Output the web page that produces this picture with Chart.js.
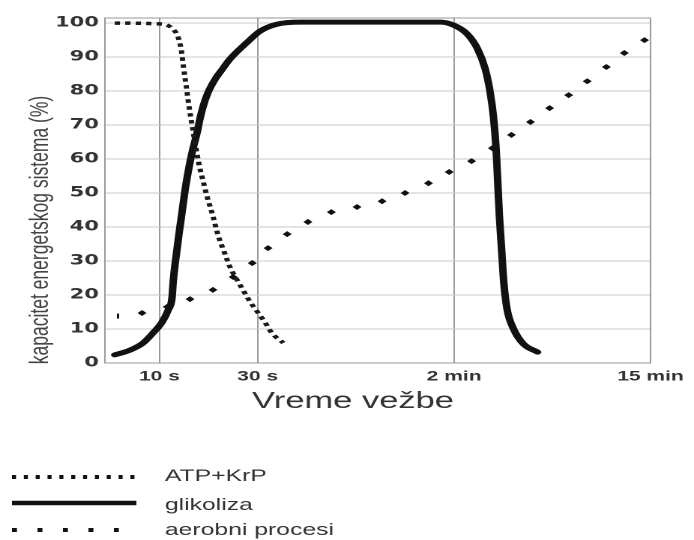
<!DOCTYPE html>
<html>
<head>
<meta charset="utf-8">
<script src="https://cdn.jsdelivr.net/npm/chart.js@4.4.1/dist/chart.umd.min.js"></script>
<style>
  html, body { margin:0; padding:0; background:#fff; overflow:hidden; }
  #wrap { width:463px; height:540px; transform-origin:0 0; transform:scaleX(1.4989); }
  #c { display:block; width:463px; height:540px; }
</style>
</head>
<body>
<div id="wrap"><canvas id="c" width="463" height="540"></canvas></div>
<script>
// ---- data (x on a 0–100 "exercise duration" position scale, y = % capacity) ----
const xTickPos    = [10, 28, 64, 100];
const xTickLabels = ['10 s', '30 s', '2 min', '15 min'];
const yTicks      = [0, 10, 20, 30, 40, 50, 60, 70, 80, 90, 100];

const seriesNames = ['ATP+KrP', 'glikoliza', 'aerobni procesi'];

const atpX = [1.8, 10.6, 12.5, 13.4, 14.0, 14.4, 14.9, 15.4, 16.0, 16.6, 17.3, 18.0, 18.7, 19.8, 20.7, 21.9, 22.9, 24.2, 25.3, 26.6, 28.1, 29.4, 30.6, 32.7];
const atpY = [100, 99.7, 98.2, 95.9, 92.0, 87.0, 81.5, 75.6, 69.7, 64.0, 58.0, 53.5, 49.1, 43.2, 37.8, 32.5, 28.3, 24.5, 21.5, 18.0, 14.7, 11.8, 8.8, 5.9];

const glikX = [1.8, 4.6, 7.0, 8.8, 10.5, 11.6, 12.3, 12.5, 12.8, 13.2, 13.6, 14.1, 14.7, 15.4, 16.1, 16.9, 17.4, 18.0, 18.9, 20.2, 21.5, 22.9, 26.1, 28.4, 31.6, 35.8, 61.5, 63.9, 66.4, 68.3, 69.7, 70.6, 71.2, 71.7, 72.0, 72.3, 72.7, 73.1, 73.7, 74.9, 76.7, 79.3];
const glikY = [2.4, 3.8, 5.9, 8.8, 12.1, 15.6, 19.2, 23.6, 28.3, 33.3, 38.3, 44.0, 51.0, 57.5, 62.8, 67.8, 71.7, 75.5, 79.6, 83.5, 86.4, 89.4, 94.4, 97.6, 99.7, 100.3, 100.3, 99.4, 96.8, 92.4, 86.5, 79.7, 72.6, 62.9, 53.2, 43.2, 33.5, 23.8, 15.9, 10.0, 5.6, 3.2];

const aerX = [2.4, 6.8, 11.4, 15.6, 19.8, 23.5, 27.0, 29.9, 33.4, 37.2, 41.5, 46.2, 50.8, 55.0, 59.3, 63.1, 67.2, 71.0, 74.5, 78.0, 81.5, 85.0, 88.4, 91.9, 95.2, 98.9];
const aerY = [13.8, 14.7, 16.5, 18.8, 21.5, 25.3, 29.4, 33.8, 37.9, 41.5, 44.4, 45.9, 47.6, 50.0, 52.9, 56.2, 59.4, 63.2, 67.1, 70.9, 75.0, 78.8, 82.9, 87.1, 91.2, 95.0];

const xTitle = 'Vreme vežbe';
const yTitle = 'kapacitet energetskog sistema (%)';

const pts = (xs, ys) => xs.map((x, i) => ({ x: x, y: ys[i] }));

const decor = {
  id: 'decor',
  beforeDatasetsDraw(chart) {
    const { ctx, chartArea: a } = chart;
    ctx.save();
    ctx.strokeStyle = '#999';
    ctx.lineWidth = 1;
    ctx.strokeRect(a.left, a.top, a.right - a.left, a.bottom - a.top);
    ctx.restore();
  },
  afterDraw(chart) {
    const ctx = chart.ctx;
    ctx.save();
    // axis titles
    ctx.fillStyle = '#333';
    ctx.font = '23px "Liberation Sans", Arial, sans-serif';
    ctx.textAlign = 'center';
    ctx.textBaseline = 'alphabetic';
    ctx.fillText(xTitle, 235.5, 408);
    ctx.save();
    ctx.translate(32, 230);
    ctx.rotate(-Math.PI / 2);
    ctx.fillStyle = '#444';
    ctx.font = '17.5px "Liberation Sans", Arial, sans-serif';
    ctx.fillText(yTitle, 0, 0);
    ctx.restore();

    // legend
    const rows = [
      { y: 477, dash: [2.7, 5.2], w: 4, text: seriesNames[0], ty: 481 },
      { y: 503, dash: [],         w: 4.5, text: seriesNames[1], ty: 510 },
      { y: 530, dash: [3.3, 13.7], w: 4, text: seriesNames[2], ty: 535 }
    ];
    ctx.strokeStyle = '#111';
    ctx.lineCap = 'butt';
    rows.forEach(r => {
      ctx.setLineDash(r.dash);
      ctx.lineWidth = r.w;
      ctx.beginPath();
      ctx.moveTo(8, r.y);
      ctx.lineTo(91, r.y);
      ctx.stroke();
    });
    ctx.setLineDash([]);
    ctx.fillStyle = '#333';
    ctx.font = '16.5px "Liberation Sans", Arial, sans-serif';
    ctx.textAlign = 'left';
    rows.forEach(r => ctx.fillText(r.text, 110, r.ty));
    ctx.restore();
  }
};

new Chart(document.getElementById('c'), {
  type: 'scatter',
  data: {
    datasets: [
      {
        label: seriesNames[0],
        data: pts(atpX, atpY),
        showLine: true,
        borderColor: '#1a1a1a',
        borderWidth: 3.5,
        borderDash: [3.5, 3.5],
        cubicInterpolationMode: 'monotone',
        pointRadius: 0,
        fill: false
      },
      {
        label: seriesNames[1],
        data: pts(glikX, glikY),
        showLine: true,
        borderColor: '#111',
        borderWidth: 5,
        cubicInterpolationMode: 'monotone',
        borderCapStyle: 'round',
        borderJoinStyle: 'round',
        pointRadius: 0,
        fill: false
      },
      {
        label: seriesNames[2],
        data: pts(aerX, aerY),
        showLine: false,
        pointStyle: c => c.dataIndex === 0 ? 'line' : 'rectRot',
        pointRotation: c => c.dataIndex === 0 ? 90 : 0,
        pointRadius: c => c.dataIndex === 0 ? 2.5 : 2.3,
        pointBorderWidth: c => c.dataIndex === 0 ? 1.5 : 1,
        pointBackgroundColor: '#111',
        pointBorderColor: '#111'
      }
    ]
  },
  options: {
    responsive: false,
    maintainAspectRatio: false,
    devicePixelRatio: 2,
    animation: false,
    layout: { padding: { top: 18, right: 29, bottom: 0, left: 0 } },
    plugins: { legend: { display: false }, tooltip: { enabled: false } },
    scales: {
      x: {
        type: 'linear', min: 0, max: 100,
        afterBuildTicks: s => { s.ticks = xTickPos.map(v => ({ value: v })); },
        afterFit: s => { s.height = 177; },
        ticks: {
          callback: (v, i) => xTickLabels[i],
          font: { family: '"Liberation Sans", Arial, sans-serif', size: 14, weight: 'bold' },
          color: '#333', padding: 5, maxRotation: 0, autoSkip: false
        },
        grid: { color: '#999', drawTicks: false },
        border: { color: '#999' }
      },
      y: {
        min: 0, max: 101.5,
        afterBuildTicks: s => { s.ticks = yTicks.map(v => ({ value: v })); },
        afterFit: s => { s.width = 70; },
        ticks: {
          font: { family: '"DejaVu Sans", sans-serif', size: 14, weight: 'bold' },
          color: '#333', padding: 4
        },
        grid: { color: '#c8c8c8', drawTicks: false },
        border: { color: '#999' }
      }
    }
  },
  plugins: [decor]
});
</script>
</body>
</html>
